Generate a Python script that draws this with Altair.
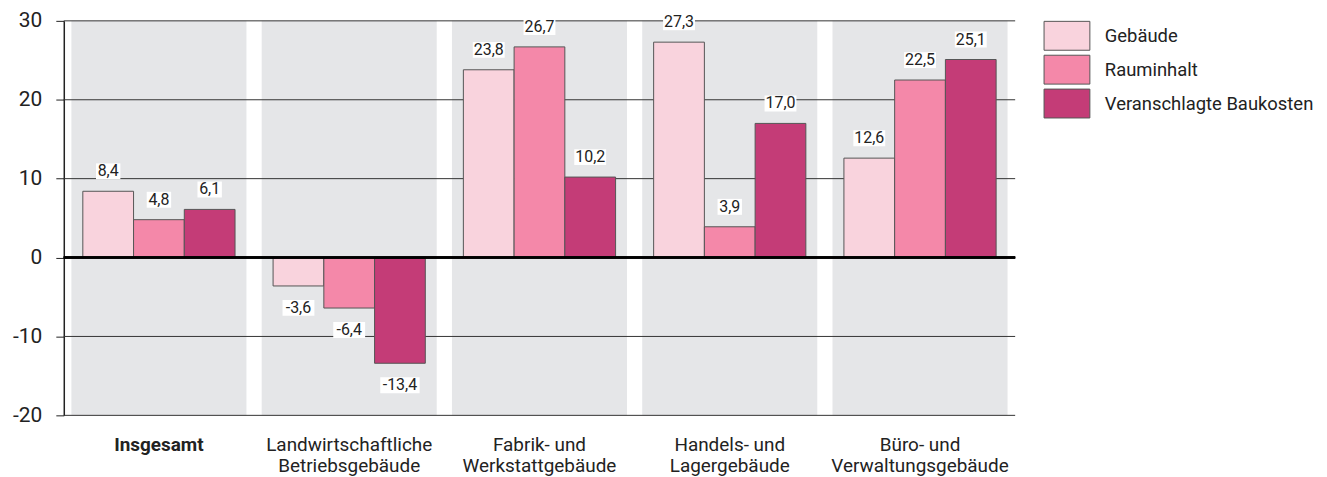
import altair as alt
import pandas as pd

categories = ["Insgesamt", "Landwirtschaftliche|Betriebsgebäude", "Fabrik- und|Werkstattgebäude",
              "Handels- und|Lagergebäude", "Büro- und|Verwaltungsgebäude"]
series = ["Gebäude", "Rauminhalt", "Veranschlagte Baukosten"]
gebaeude = [8.4, -3.6, 23.8, 27.3, 12.6]
rauminhalt = [4.8, -6.4, 26.7, 3.9, 22.5]
baukosten = [6.1, -13.4, 10.2, 17.0, 25.1]
y_ticks = [-20, -10, 0, 10, 20, 30]
grid_ticks = [-20, -10, 10, 20, 30]
colors = ["#f9d3dd", "#f488a9", "#c43c77"]

FONT = "Roboto, Liberation Sans, sans-serif"
TXT = "#222222"

rows = []
for s, vals in zip(series, [gebaeude, rauminhalt, baukosten]):
    for c, v in zip(categories, vals):
        rows.append({"cat": c, "series": s, "v": v})
df = pd.DataFrame(rows)
cat_df = pd.DataFrame({"cat": categories})
grid_df = pd.DataFrame({"t": grid_ticks})

x_enc = alt.X("cat:N", sort=categories,
              scale=alt.Scale(paddingInner=0.08, paddingOuter=0.04),
              axis=alt.Axis(title=None, labelAngle=0, domain=False, ticks=False,
                            labelFontSize=19, labelPadding=20, labelLineHeight=21, labelLimit=400,
                            labelFont=FONT, labelColor=TXT,
                            labelExpr="split(datum.label, '|')",
                            labelFontWeight={"condition": {"test": "datum.value === 'Insgesamt'", "value": "bold"},
                                             "value": "normal"}))
y_scale = alt.Scale(domain=[-20, 30], nice=False, zero=False)
xoff = alt.XOffset("series:N", sort=series, scale=alt.Scale(paddingOuter=0.225, paddingInner=0))

bg = alt.Chart(cat_df).mark_bar(color="#e5e6e8").encode(
    x=x_enc,
    y=alt.Y(datum=30, scale=y_scale,
            axis=alt.Axis(title=None, values=y_ticks, grid=False, domainColor=TXT, domainWidth=1.5,
                          tickColor=TXT, tickSize=8, tickWidth=1, labelFontSize=21, labelPadding=14,
                          labelFont=FONT, labelColor=TXT,
                          labelExpr="datum.value < 0 ? '-' + abs(datum.value) : '' + datum.value")),
    y2=alt.Y2(datum=-20),
)

grid = alt.Chart(grid_df).mark_rule(color="#333333", strokeWidth=1).encode(
    y=alt.Y("t:Q", scale=y_scale)
)

bars = alt.Chart(df).mark_bar(stroke="#555555", strokeWidth=1, opacity=1).encode(
    x=x_enc,
    xOffset=xoff,
    y=alt.Y("v:Q", scale=y_scale),
    color=alt.Color("series:N", sort=series,
                    scale=alt.Scale(domain=series, range=colors),
                    legend=alt.Legend(title=None, orient="none", legendX=992, legendY=0,
                                      symbolType="M-1.586,-1H1.586V1H-1.586Z", symbolSize=841,
                                      symbolStrokeColor="#555555", symbolStrokeWidth=1,
                                      symbolOpacity=1, rowPadding=0, labelOffset=23, labelLimit=400,
                                      labelFontSize=18.5, labelFont=FONT, labelColor=TXT)),
)

lab = alt.Chart(df).transform_calculate(
    lbl="(datum.v < 0 ? '-' : '') + replace(format(abs(datum.v), '.1f'), '.', ',')"
).transform_calculate(
    hw="length(datum.lbl) * 3.75 + 1"
).transform_calculate(
    shp="'M' + (-datum.hw) + ',-8H' + datum.hw + 'V8H' + (-datum.hw) + 'Z'"
)

def label_layers(cond, off):
    base = lab.transform_filter(cond)
    box = base.mark_point(filled=True, fill="white", opacity=1, strokeWidth=0, yOffset=off).encode(
        x=x_enc, xOffset=xoff, y=alt.Y("v:Q", scale=y_scale),
        shape=alt.Shape("shp:N", scale=None), size=alt.value(4))
    txt = base.mark_text(fontSize=16, font=FONT, color=TXT, baseline="middle", yOffset=off).encode(
        x=x_enc, xOffset=xoff, y=alt.Y("v:Q", scale=y_scale), text="lbl:N")
    return [box, txt]

zero = alt.Chart(cat_df).mark_rule(color="#000000", strokeWidth=2).encode(y=alt.Y(datum=0, scale=y_scale))

chart = alt.layer(
    bg, grid, bars,
    *label_layers("datum.v >= 0", -20),
    *label_layers("datum.v < 0", 22),
    zero,
).properties(
    width=955, height=396,
    padding={"left": 4, "top": 1, "right": 5, "bottom": 5},
).configure_view(stroke=None).configure_legend(padding=0)

chart.save("out.html", embed_options={"renderer": "svg", "actions": False})
